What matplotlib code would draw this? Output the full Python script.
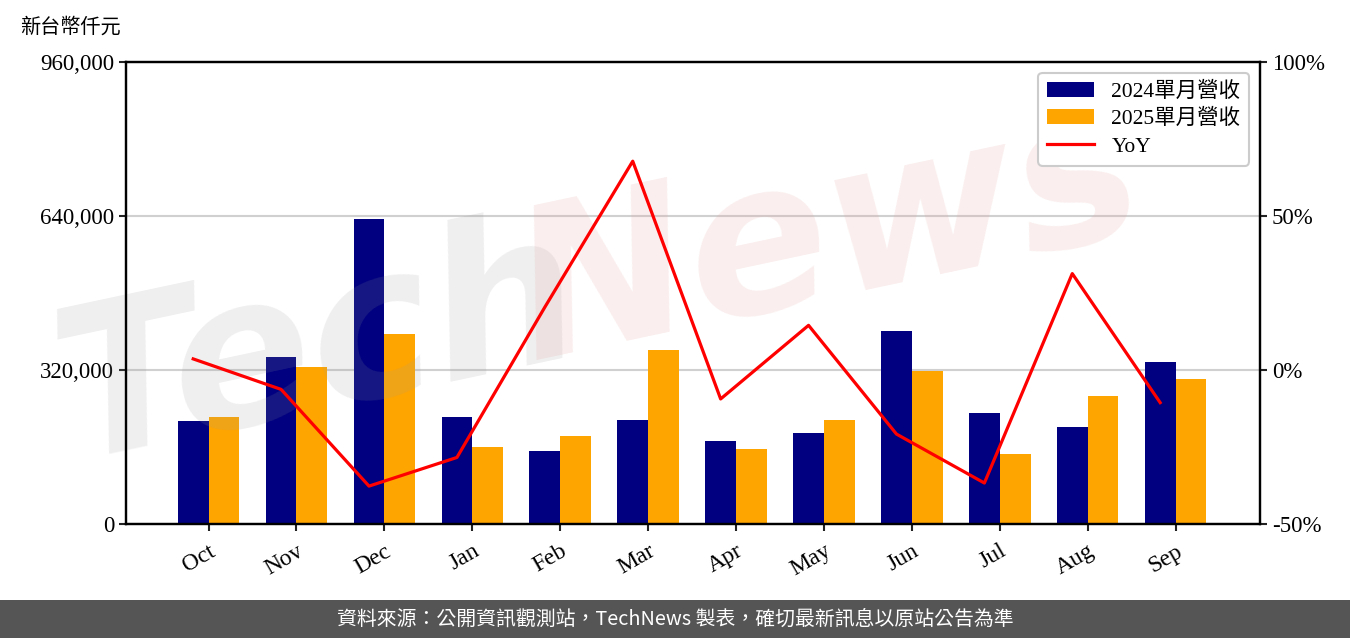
import numpy as np
import matplotlib.pyplot as plt
from matplotlib.ticker import FuncFormatter

months = ["Oct", "Nov", "Dec", "Jan", "Feb", "Mar", "Apr", "May", "Jun", "Jul", "Aug", "Sep"]
rev_2024 = [214000, 347000, 634000, 222000, 152000, 216000, 172500, 189000, 401000, 231000, 201500, 336500]
rev_2025 = [222000, 326000, 395000, 160000, 183000, 361500, 156000, 216000, 318000, 145500, 266000, 301500]
yoy = [3.6, -6.3, -37.7, -28.4, 20.4, 67.8, -9.4, 14.5, -20.8, -36.7, 31.3, -10.6]

plt.rcParams['font.family'] = ['Liberation Serif', 'Noto Sans CJK TC', 'DejaVu Sans']

fig = plt.figure(figsize=(13.5, 6.38), dpi=100)
ax = fig.add_axes([0.0933, 0.1787, 0.84, 0.7241])

x = np.arange(len(months))
w = 0.35
ax.bar(x - w / 2, rev_2024, w, color='#000080', label='2024單月營收', zorder=2)
ax.bar(x + w / 2, rev_2025, w, color='#FFA500', label='2025單月營收', zorder=2)
ax.set_ylim(0, 960000)
ax.set_yticks([0, 320000, 640000, 960000])
ax.yaxis.set_major_formatter(FuncFormatter(lambda v, p: f"{int(v):,}"))
ax.grid(axis='y', color='#d0d0d0', linewidth=1.5, zorder=0)
ax.set_axisbelow(True)
ax.set_xticks(x)
ax.set_xticklabels(months, rotation=30, ha='right', rotation_mode='anchor')
ax.set_xlim(-0.94, 11.96)

ax2 = ax.twinx()
ax2.plot(x - w / 2, yoy, color='#FF0000', linewidth=2.3, label='YoY', zorder=3)
ax2.set_ylim(-50, 100)
ax2.set_yticks([-50, 0, 50, 100])
ax2.yaxis.set_major_formatter(FuncFormatter(lambda v, p: f"{int(v)}%"))

for a in (ax, ax2):
    for s in a.spines.values():
        s.set_linewidth(1.6)
    a.tick_params(width=1.5, length=5, labelsize=16.5, color='#222222')
ax.tick_params(axis='x', labelsize=17, pad=7)

h1, l1 = ax.get_legend_handles_labels()
h2, l2 = ax2.get_legend_handles_labels()
leg = ax2.legend(h1 + h2, l1 + l2, loc='upper right', fontsize=15.5, framealpha=1,
                 edgecolor='#cccccc', handlelength=2.2, borderpad=0.4, labelspacing=0.35)
leg.get_frame().set_linewidth(1.5)

# watermark
ax.text(0.17, 0.38, 'Tech', transform=ax.transAxes, fontsize=150, fontstyle='italic',
        fontweight='bold', family='DejaVu Sans', color='#999999', alpha=0.16,
        rotation=12, ha='center', va='center', zorder=5)
ax.text(0.62, 0.62, 'News', transform=ax.transAxes, fontsize=150, fontstyle='italic',
        fontweight='bold', family='DejaVu Sans', color='#e8a0a0', alpha=0.18,
        rotation=12, ha='center', va='center', zorder=5)

fig.text(0.015, 0.957, '新台幣仟元', fontsize=14.5, family=['Noto Sans CJK TC'], va='center')

fig.patches.append(plt.Rectangle((0, 0), 1, 38 / 638, transform=fig.transFigure,
                                 facecolor='#555555', edgecolor='none'))
fig.text(0.5, 19 / 638, '資料來源：公開資訊觀測站，TechNews 製表，確切最新訊息以原站公告為準',
         color='white', fontsize=14.3, family=['Noto Sans CJK TC'], ha='center', va='center')

fig.savefig('out.png', dpi=100)
